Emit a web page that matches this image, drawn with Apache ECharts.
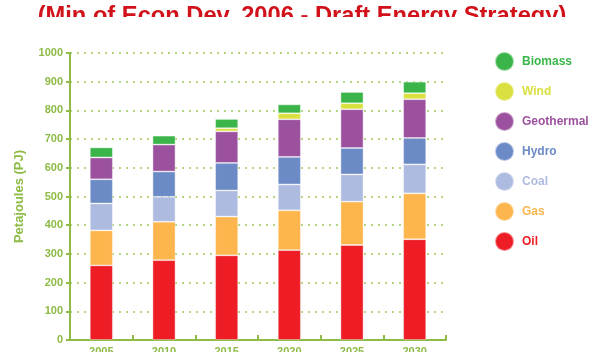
<!DOCTYPE html>
<html><head><meta charset="utf-8">
<script src="https://cdn.jsdelivr.net/npm/echarts@6/dist/echarts.min.js"></script>
<style>html,body{margin:0;padding:0;background:#fff}#c{width:595px;height:352px}</style>
</head><body><div id="c"></div>
<script>
const titleText = '(Min of Econ Dev, 2006 - Draft Energy Strategy)';
const years = ['2005', '2010', '2015', '2020', '2025', '2030'];
const oil = [260, 278, 295, 313, 331, 351];
const gas = [122, 134, 135, 139, 151, 160];
const coal = [94, 87, 91, 90, 95, 101];
const hydro = [84, 88, 96, 96, 92, 92];
const geothermal = [76, 94, 110, 131, 135, 135];
const wind = [0, 0, 11, 21, 21, 21];
const biomass = [35, 31, 32, 31, 39, 40];
const yTicks = [0, 100, 200, 300, 400, 500, 600, 700, 800, 900, 1000];

const FONT = '"Liberation Sans", Arial, sans-serif';
const GREEN = '#8dbb45';
const seriesDefs = [
  {name: 'Oil', data: oil, color: '#ee1c25'},
  {name: 'Gas', data: gas, color: '#fdb64e'},
  {name: 'Coal', data: coal, color: '#aebbe0'},
  {name: 'Hydro', data: hydro, color: '#6b8ac6'},
  {name: 'Geothermal', data: geothermal, color: '#9c519e'},
  {name: 'Wind', data: wind, color: '#d9e03f'},
  {name: 'Biomass', data: biomass, color: '#3bb54a'}
];

const chart = echarts.init(document.getElementById('c'), null, {renderer: 'canvas'});
chart.setOption({
  animation: false,
  backgroundColor: '#fff',
  textStyle: {fontFamily: FONT},
  grid: {left: 70, right: 149, top: 53, bottom: 12, containLabel: false, outerBoundsMode: 'none'},
  legend: {
    orient: 'vertical', left: 494, top: 51, padding: 0,
    icon: 'circle', itemWidth: 19, itemHeight: 19, itemGap: 9,
    selectedMode: false,
    data: seriesDefs.slice().reverse().map(s => ({
      name: s.name,
      textStyle: {color: s.color, fontWeight: 'bold', fontSize: 12, fontFamily: FONT, padding: [0, 0, 0, 3]}
    }))
  },
  xAxis: {
    type: 'category', data: years,
    axisLine: {lineStyle: {color: GREEN, width: 2}},
    axisTick: {show: true, inside: true, length: 5, lineStyle: {color: GREEN, width: 2}},
    axisLabel: {color: GREEN, fontWeight: 'bold', fontSize: 11, margin: 6, fontFamily: FONT}
  },
  yAxis: {
    type: 'value', min: yTicks[0], max: yTicks[yTicks.length - 1], interval: 100,
    name: 'Petajoules (PJ)', nameLocation: 'middle', nameGap: 44,
    nameTextStyle: {color: GREEN, fontWeight: 'bold', fontSize: 13, fontFamily: FONT},
    axisLine: {show: true, lineStyle: {color: GREEN, width: 2}},
    axisTick: {show: true, length: 4, lineStyle: {color: GREEN, width: 2}},
    axisLabel: {color: GREEN, fontWeight: 'bold', fontSize: 11, margin: 7, fontFamily: FONT,
      formatter: v => String(v)},
    splitLine: {show: true, lineStyle: {color: '#9cc75a', width: 1.5, type: [2, 5]}}
  },
  series: seriesDefs.map(s => ({
    name: s.name, type: 'bar', stack: 'total', barWidth: 23,
    data: s.data,
    itemStyle: {color: s.color, borderColor: 'rgba(255,255,255,0.5)', borderWidth: 0.8}
  })),
  graphic: [
    {type: 'text', zlevel: 1, z: 1, style: {text: titleText, x: 302, y: 16.6, align: 'center', verticalAlign: 'middle',
      font: 'bold 23.7px ' + FONT, fill: '#d2121b'}},
    {type: 'rect', zlevel: 1, z: 50, shape: {x: 0, y: 17, width: 595, height: 16}, style: {fill: '#ffffff'}}
  ]
});
</script>
</body></html>
